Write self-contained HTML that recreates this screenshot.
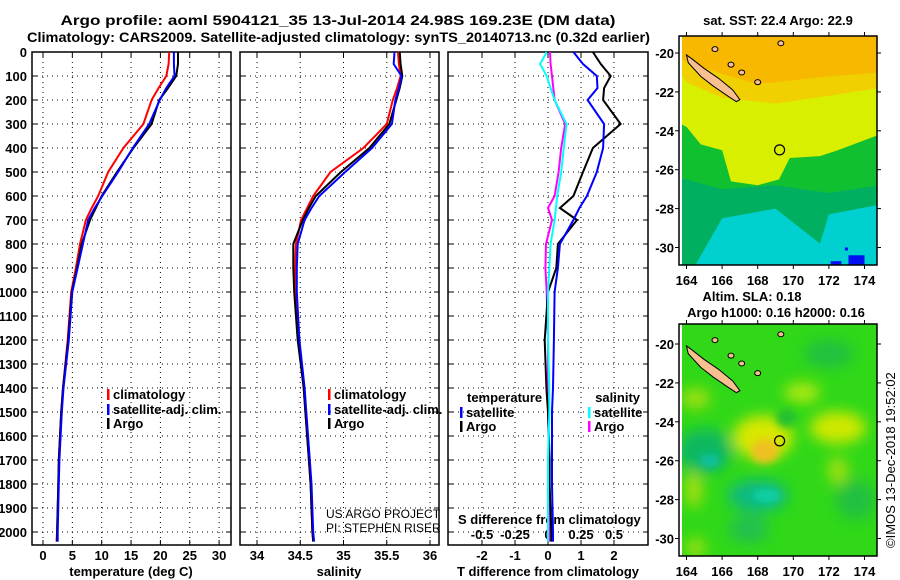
<!DOCTYPE html>
<html><head><meta charset="utf-8"><style>
html,body{margin:0;padding:0;background:#fff;}
svg{display:block;font-family:"Liberation Sans",Arial,sans-serif;font-weight:bold;}
</style></head><body>
<svg id="c" width="900" height="580" viewBox="0 0 900 580" xmlns="http://www.w3.org/2000/svg">
<defs>
<filter id="bl" x="-20%" y="-20%" width="140%" height="140%"><feGaussianBlur stdDeviation="7"/></filter>
<filter id="bl2" x="-20%" y="-20%" width="140%" height="140%"><feGaussianBlur stdDeviation="4"/></filter>
<clipPath id="cp1"><rect x="682" y="36" width="195" height="229"/></clipPath>
<clipPath id="cp2"><rect x="682" y="324" width="195" height="232"/></clipPath>
</defs>
<g id="root"></g>
</svg>
<script>
// ---- data ----
const depths      = [0,50,100,150,200,300,400,500,600,650,700,800,900,1000,1200,1400,1500,1700,1800,2000,2040];
const tempArgo    = [23.0,23.0,22.7,21.3,19.8,18.5,15.4,12.6,10.0,9.0,8.0,6.6,5.8,4.9,4.3,3.4,3.1,2.7,2.6,2.4,2.4];
const tempClim    = [21.5,21.4,21.0,19.7,18.5,17.1,13.7,11.1,9.4,8.3,7.3,6.3,5.6,4.8,4.2,3.4,3.1,2.7,2.6,2.4,2.3];
const tempSat     = [22.3,22.3,22.4,21.0,19.9,18.1,15.3,12.8,10.1,8.8,7.7,6.8,5.9,5.0,4.4,3.5,3.2,2.8,2.7,2.5,2.5];
const salArgo     = [35.65,35.66,35.68,35.65,35.61,35.53,35.30,34.97,34.68,34.60,34.53,34.42,34.42,34.43,34.47,34.54,34.56,34.60,34.62,34.64,34.65];
const salClim     = [35.63,35.64,35.66,35.62,35.57,35.50,35.23,34.85,34.65,34.58,34.51,34.45,34.44,34.44,34.48,34.54,34.56,34.60,34.62,34.64,34.65];
const salSat      = [35.59,35.58,35.67,35.64,35.60,35.56,35.33,35.02,34.72,34.63,34.55,34.47,34.46,34.46,34.49,34.55,34.57,34.61,34.63,34.65,34.66];
const tDiffArgo   = [1.36,1.6,1.9,1.7,1.67,2.2,1.36,1.06,0.77,0.36,0.88,0.3,0.25,0.0,-0.1,-0.05,0.0,0.05,0.05,0.1,0.1];
const tDiffSat    = [0.77,1.06,1.48,1.5,1.2,1.7,1.67,1.48,1.18,0.95,0.77,0.36,0.3,0.2,0.18,0.15,0.12,0.12,0.12,0.15,0.15];
const sDiffArgo   = [0.015,0.02,0.03,0.04,0.05,0.13,0.10,0.08,0.05,0.0,0.03,-0.015,-0.02,-0.01,0.0,0.0,0.0,0.01,0.01,0.015,0.015];
const sDiffSat    = [-0.01,-0.06,-0.01,0.02,0.05,0.14,0.12,0.10,0.07,0.06,0.05,0.02,0.01,0.0,0.0,0.01,0.01,0.0,0.0,0.0,0.0];
const depthTicks  = [0,100,200,300,400,500,600,700,800,900,1000,1100,1200,1300,1400,1500,1600,1700,1800,1900,2000];
const tempTicks   = [0,5,10,15,20,25,30];
const salTicks    = [34,34.5,35,35.5,36];
const tdTicks     = [-2,-1,0,1,2];
const sdTicks     = [-0.5,-0.25,0,0.25,0.5];
const sdTickLabels= ["-0.5","-0.25","0","0.25","0.5"];
const lonTicks    = [164,166,168,170,172,174];
const latTicks    = [-20,-22,-24,-26,-28,-30];

const NS="http://www.w3.org/2000/svg";
const root=document.getElementById('root');
function el(tag,attrs,parent,text){const e=document.createElementNS(NS,tag);for(const k in attrs)e.setAttribute(k,attrs[k]);if(text!==undefined)e.textContent=text;(parent||root).appendChild(e);return e;}

const yD=d=>52+d*0.24;
const xT=t=>43+t*5.87;
const xS=s=>257+(s-34)*86.5;
const xTD=d=>548+d*33;
const xSD=s=>548+s*132;

let t1=el('text',{x:338,y:25,'font-size':14,'text-anchor':'middle',textLength:555,lengthAdjust:'spacingAndGlyphs'},root,'Argo profile: aoml 5904121_35 13-Jul-2014 24.98S 169.23E (DM data)');


let t2=el('text',{x:27,y:42,'font-size':14,textLength:623,lengthAdjust:'spacingAndGlyphs'},root,'Climatology: CARS2009. Satellite-adjusted climatology: synTS_20140713.nc (0.32d earlier)');



function panel(name,x0,x1,xticks,xf){
  const g=el('g',{});
  
  
  depthTicks.forEach(d=>{el('line',{x1:x0,x2:x1,y1:yD(d),y2:yD(d),stroke:'#000','stroke-width':1,'stroke-dasharray':'1,4'},g);
    el('line',{x1:x0,x2:x0+5,y1:yD(d),y2:yD(d),stroke:'#000'},g);el('line',{x1:x1-5,x2:x1,y1:yD(d),y2:yD(d),stroke:'#000'},g);});
  xticks.forEach(v=>{const x=xf(v);el('line',{x1:x,x2:x,y1:52,y2:545,stroke:'#000','stroke-dasharray':'1,4'},g);
    el('line',{x1:x,x2:x,y1:540,y2:545,stroke:'#000'},g);el('line',{x1:x,x2:x,y1:52,y2:57,stroke:'#000'},g);});
  el('rect',{x:x0,y:52,width:x1-x0,height:493,fill:'none',stroke:'#000','stroke-width':1.5},g);
  return g;
}
panel('temperature-panel',32,231,tempTicks,xT);
panel('salinity-panel',240,439,salTicks,xS);
panel('difference-panel',448,648,tdTicks,xTD);

depthTicks.forEach(d=>{const t=el('text',{x:27,y:yD(d)+5,'font-size':13,'text-anchor':'end'},root,String(d));
  
  });
tempTicks.forEach(v=>{const t=el('text',{x:xT(v),y:560,'font-size':13,'text-anchor':'middle'},root,String(v));
  
  });
salTicks.forEach(v=>{const t=el('text',{x:xS(v),y:560,'font-size':13,'text-anchor':'middle'},root,String(v));
  
  });
tdTicks.forEach(v=>{const t=el('text',{x:xTD(v),y:560,'font-size':13,'text-anchor':'middle'},root,String(v));
  
  });
sdTicks.forEach((v,i)=>{const t=el('text',{x:xSD(v),y:539,'font-size':13,'text-anchor':'middle'},root,sdTickLabels[i]);
  
  });
let a=el('text',{x:131,y:576,'font-size':13,'text-anchor':'middle'},root,'temperature (deg C)');


a=el('text',{x:339,y:576,'font-size':13,'text-anchor':'middle'},root,'salinity');


a=el('text',{x:548,y:576,'font-size':13,'text-anchor':'middle'},root,'T difference from climatology');


a=el('text',{x:458,y:524,'font-size':13},root,'S difference from climatology');



function line(vals,xf,color,name,w){
  const pts=vals.map((v,i)=>xf(v).toFixed(1)+','+yD(depths[i]).toFixed(1)).join(' ');
  const p=el('polyline',{points:pts,fill:'none',stroke:color,'stroke-width':w||2});
  
  
}
line(tempClim,xT,'#f00','temp-climatology-line');
line(tempArgo,xT,'#000','temp-argo-line');
line(tempSat,xT,'#00f','temp-satellite-line');
line(salClim,xS,'#f00','sal-climatology-line');
line(salArgo,xS,'#000','sal-argo-line');
line(salSat,xS,'#00f','sal-satellite-line');
line(sDiffArgo,xSD,'#f0f','s-diff-argo-line');
line(tDiffArgo,xTD,'#000','t-diff-argo-line');
line(tDiffSat,xTD,'#00f','t-diff-satellite-line');
line(sDiffSat,xSD,'#0ff','s-diff-satellite-line');

function legend(x,y,color,label,name){
  const g=el('g',{});
  
  
  el('rect',{x:x,y:y-9,width:2.5,height:11,fill:color},g);
  el('text',{x:x+6,y:y+1,'font-size':13},g,label);
}
legend(107,398,'#f00','climatology','legend-climatology');
legend(107,413,'#00f','satellite-adj. clim.','legend-satellite-adj');
legend(107,427,'#000','Argo','legend-argo');
legend(328,398,'#f00','climatology','legend2-climatology');
legend(328,413,'#00f','satellite-adj. clim.','legend2-satellite-adj');
legend(328,427,'#000','Argo','legend2-argo');
a=el('text',{x:467,y:402,'font-size':13},root,'temperature');


a=el('text',{x:640,y:402,'font-size':13,'text-anchor':'end'},root,'salinity');


legend(460,416,'#00f','satellite','legend-t-satellite');
legend(460,430,'#000','Argo','legend-t-argo');
legend(588,416,'#0ff','satellite','legend-s-satellite');
legend(588,430,'#f0f','Argo','legend-s-argo');
a=el('text',{x:326,y:518,'font-size':12,'font-weight':'normal'},root,'US ARGO PROJECT');


a=el('text',{x:326,y:532,'font-size':12,'font-weight':'normal'},root,'PI: STEPHEN RISER');



// ---- maps ----
function map(name,top,bottom,lat20y,drawBg,clip){
  const g=el('g',{});
  
  
  const lx=lon=>686.5+(lon-164)*17.8;
  const ly=lat=>lat20y+(-20-lat)*19.45;
  const inner=el('g',{'clip-path':'url(#'+clip+')'},g);
  drawBg(inner,lx,ly,top,bottom);
  const isl=[[164,-20.1],[164.3,-20.3],[165,-20.8],[165.8,-21.3],[166.6,-21.9],[167,-22.4],[166.8,-22.5],[166.3,-22.2],[165.5,-21.7],[164.8,-21.2],[164.1,-20.5]];
  el('polygon',{points:isl.map(p=>lx(p[0])+','+ly(p[1])).join(' '),fill:'#f8c090',stroke:'#000','stroke-width':1},inner);
  [[165.6,-19.8],[166.5,-20.6],[167.1,-21],[168,-21.5],[169.3,-19.5]].forEach(p=>el('ellipse',{cx:lx(p[0]),cy:ly(p[1]),rx:3,ry:2.5,fill:'#f8c090',stroke:'#000'},inner));
  el('circle',{cx:lx(169.23),cy:ly(-24.98),r:5,fill:'none',stroke:'#000','stroke-width':1.2},g);
  el('rect',{x:679,y:top,width:198,height:bottom-top,fill:'none',stroke:'#000','stroke-width':1.5},g);
  lonTicks.forEach(v=>{el('line',{x1:lx(v),x2:lx(v),y1:bottom,y2:bottom+4,stroke:'#000'},g);el('line',{x1:lx(v),x2:lx(v),y1:top-4,y2:top,stroke:'#000'},g);
    el('text',{x:lx(v),y:bottom+20,'font-size':13,'text-anchor':'middle'},g,String(v));});
  latTicks.forEach(v=>{el('line',{x1:675,x2:679,y1:ly(v),y2:ly(v),stroke:'#000'},g);el('line',{x1:877,x2:881,y1:ly(v),y2:ly(v),stroke:'#000'},g);
    el('text',{x:674,y:ly(v)+5,'font-size':13,'text-anchor':'end'},g,String(v));});
  return g;
}
map('sst-map',36,265,53,(g,lx,ly,top,bot)=>{
  el('rect',{x:679,y:top,width:200,height:bot-top,fill:'#00d0d0'},g);
  el('path',{d:`M679 ${top} H879 V${ly(-27.8)} L${lx(172)} ${ly(-28.3)} L${lx(171.5)} ${ly(-29.8)} L${lx(169)} ${ly(-28)} L${lx(166)} ${ly(-28.5)} L${lx(164.5)} ${ly(-30.9)} H679 Z`,fill:'#00b060'},g);
  el('path',{d:`M679 ${top} H879 V${ly(-26.8)} L${lx(172)} ${ly(-27.2)} L${lx(169)} ${ly(-26.8)} L${lx(166)} ${ly(-27)} L${lx(164)} ${ly(-26.5)} H679 Z`,fill:'#10c030'},g);
  el('path',{d:`M679 ${top} H879 V${ly(-24.2)} L${lx(172.5)} ${ly(-25)} L${lx(171.5)} ${ly(-25.3)} L${lx(169.8)} ${ly(-25.4)} L${lx(169.2)} ${ly(-26.5)} L${lx(168)} ${ly(-26.8)} L${lx(166.5)} ${ly(-26.6)} L${lx(166)} ${ly(-25)} L${lx(164.8)} ${ly(-24.7)} L${lx(164)} ${ly(-23.8)} L679 ${ly(-23.6)} Z`,fill:'#d8f000'},g);
  el('path',{d:`M679 ${top} H879 V${ly(-21.8)} L${lx(172)} ${ly(-22.2)} L${lx(169)} ${ly(-22.6)} L${lx(166)} ${ly(-22.3)} L${lx(164)} ${ly(-21.5)} L679 ${ly(-21)} Z`,fill:'#f0d000'},g);
  el('path',{d:`M679 ${top} H879 V${ly(-21)} L${lx(172)} ${ly(-21.2)} L${lx(168)} ${ly(-21.6)} L${lx(165)} ${ly(-20.8)} L679 ${ly(-20.3)} Z`,fill:'#f8b800'},g);
  el('rect',{x:lx(173.1),y:ly(-30.4),width:lx(174)-lx(173.1),height:12,fill:'#0010f0'},g);
  el('rect',{x:lx(172.1),y:ly(-30.7),width:lx(172.7)-lx(172.1),height:8,fill:'#0010f0'},g);
  el('rect',{x:lx(172.9),y:ly(-30),width:3,height:3,fill:'#0010f0'},g);
},'cp1');
map('sla-map',324,556,344,(g,lx,ly,top,bot)=>{
  el('rect',{x:679,y:top,width:200,height:bot-top,fill:'#30d818'},g);
  const b=el('g',{filter:'url(#bl)'},g);
  [[165,-25.5,28,22,'#10b860'],[168,-27.8,30,16,'#10b880'],[167.5,-29.5,20,14,'#20c050'],[172,-20.5,25,14,'#20c040'],[173.5,-28,20,20,'#20c040']].forEach(e=>el('ellipse',{cx:lx(e[0]),cy:ly(e[1]),rx:e[2],ry:e[3],fill:e[4]},b));
  [[168.3,-24.8,30,22,'#d8e800'],[172.5,-24.3,28,16,'#d0e800'],[170.5,-22.5,18,10,'#b0e810'],[164.5,-22.8,15,10,'#a0e010'],[164.4,-27.5,8,18,'#b0e010'],[172.5,-26.5,10,14,'#a0e010'],[164.5,-30.5,10,10,'#a0e010']].forEach(e=>el('ellipse',{cx:lx(e[0]),cy:ly(e[1]),rx:e[2],ry:e[3],fill:e[4]},b));
  const b2=el('g',{filter:'url(#bl2)'},g);
  el('ellipse',{cx:lx(168.4),cy:ly(-25.5),rx:14,ry:12,fill:'#f0c020'},b2);
  el('ellipse',{cx:lx(169.6),cy:ly(-23.8),rx:10,ry:9,fill:'#20c030'},b2);
  el('ellipse',{cx:lx(168.5),cy:ly(-27.8),rx:14,ry:7,fill:'#10d0a8'},b2);
  el('ellipse',{cx:lx(165.3),cy:ly(-26),rx:10,ry:7,fill:'#10c0a0'},b2);
},'cp2');
a=el('text',{x:778,y:25,'font-size':13,'text-anchor':'middle'},root,'sat. SST: 22.4 Argo: 22.9');


a=el('text',{x:752,y:301,'font-size':13,'text-anchor':'middle'},root,'Altim. SLA: 0.18');


a=el('text',{x:776,y:317,'font-size':13,'text-anchor':'middle'},root,'Argo h1000: 0.16 h2000: 0.16');


a=el('text',{x:0,y:0,'font-size':13,'font-weight':'normal',transform:'translate(895,548) rotate(-90)'},root,'©IMOS 13-Dec-2018 19:52:02');


</script>
</body></html>
